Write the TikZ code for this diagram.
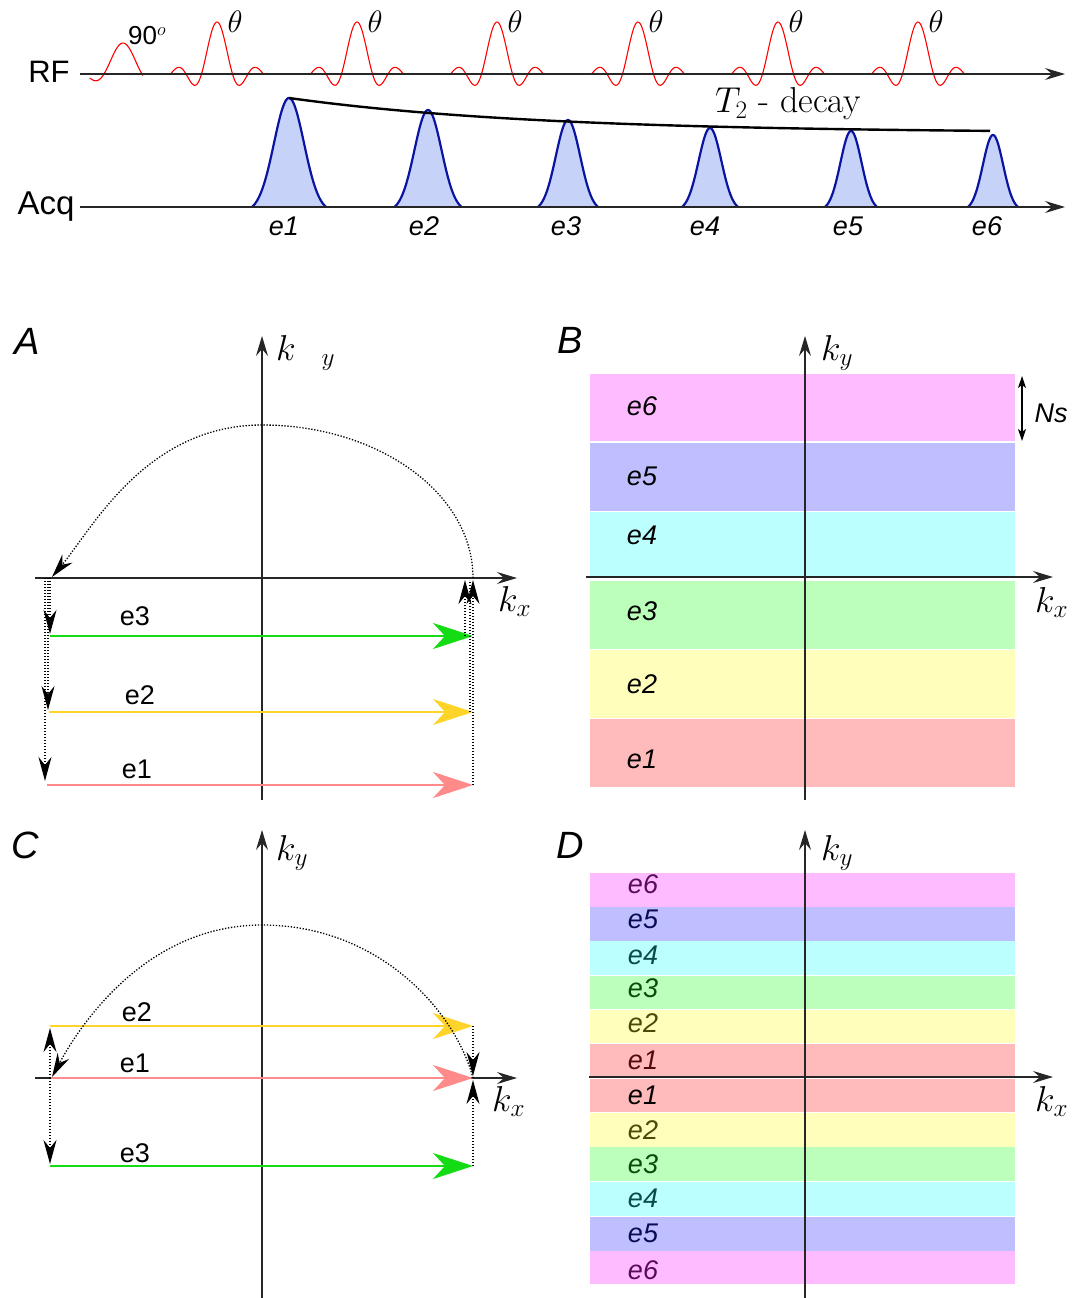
\RequirePackage{fix-cm}
\documentclass[tikz,border=0pt]{standalone}
\usepackage{fontspec}
\newfontfamily\arial{Liberation Sans}
\usetikzlibrary{arrows.meta}
\newcommand\fsz[1]{\fontsize{#1}{#1}\selectfont}
\definecolor{cpink}{HTML}{FFBBFF}
\definecolor{clav}{HTML}{BFBFFF}
\definecolor{ccyan}{HTML}{BBFFFF}
\definecolor{cgreen}{HTML}{BBFFBB}
\definecolor{cyellow}{HTML}{FFFFBB}
\definecolor{csalmon}{HTML}{FFBBBB}
\definecolor{agreen}{HTML}{14DC14}
\definecolor{ayellow}{HTML}{FFD42A}
\definecolor{asalmon}{HTML}{FF8A8A}
\definecolor{echoblue}{HTML}{C6D2F8}
\definecolor{echonavy}{HTML}{0A14A0}
\definecolor{dpurple}{HTML}{5A0A5A}
\definecolor{dnavy}{HTML}{0A0A55}
\definecolor{dteal}{HTML}{0A4A4A}
\definecolor{dgreen}{HTML}{0A4A0A}
\definecolor{dolive}{HTML}{4A4A0A}
\definecolor{dred}{HTML}{550A0A}
\begin{document}
\begin{tikzpicture}[x=1pt,y=-1pt,
  axis/.style={line width=1.2pt, draw=black!85, -{Stealth[length=20pt,width=12pt,inset=7pt]}},
  dotarr/.style={line width=1.3pt, dash pattern=on 1.3pt off 1.7pt, -{Stealth[length=24pt,width=13pt,inset=8pt]}},
  dotln/.style={line width=1.2pt, dash pattern=on 1.3pt off 1.7pt},
  karrow/.style={line width=2.6pt, -{Stealth[length=40pt,width=26pt,inset=12pt]}},
  rfpulse/.style={red, line width=1.1pt},
  echoline/.style={draw=echonavy, line width=2.2pt},
  big/.style={inner sep=0pt, font=\arial\fsz{31}},
  elab/.style={inner sep=0pt, font=\arial\itshape\fsz{27}},
  klab/.style={inner sep=0pt, font=\arial\fsz{27}},
  mlab/.style={inner sep=0pt, font=\fsz{36}},
  thlab/.style={inner sep=0pt, font=\fsz{31}},
  panel/.style={inner sep=0pt, font=\arial\itshape\fsz{38}},
  slab/.style={inner sep=0pt, font=\arial\itshape\fsz{27}},
]
\useasboundingbox (0,0) rectangle (1074,1298);

% ================= pulse sequence =================
\foreach \ec/\eh/\eb in {289/109/37, 428/97/33.5, 568/87/30, 710/79/28, 851/76/26, 993/72/25} {
  \pgfmathsetmacro\es{\eb*0.405}
  \pgfmathsetmacro\eE{exp(-0.5/(0.405*0.405))}
  \fill[echoblue] plot[domain=-\eb:\eb,samples=71] ({\ec+\x},{207-\eh*(exp(-0.5*(\x/\es)*(\x/\es))-\eE)/(1-\eE)}) -- cycle;
  \draw[echoline] plot[domain=-\eb:\eb,samples=71] ({\ec+\x},{207-\eh*(exp(-0.5*(\x/\es)*(\x/\es))-\eE)/(1-\eE)});
}
\foreach \lx [count=\i] in {284,424,566,705,848,987} {
  \node[elab] (ae\i) at (\lx,226) {e\i};
}
\draw[rfpulse] plot[domain=-1.75:1.05,samples=60] ({123+19*\x},{74-31*sin(180*\x)/(pi*(\x))});
\foreach \pc [count=\i] in {217,357,497,638,778,918} {
  \draw[rfpulse] plot[domain=-3:3,samples=120] ({\pc+15.5*\x},{74-52*sin(180*\x)/(pi*(\x))});
  \node[thlab] (th\i) at (\pc+18,22) {$\theta$};
}
\coordinate (rf0) at (80,74); \coordinate (rf1) at (1065,74);
\coordinate (aq0) at (80,207); \coordinate (aq1) at (1065,207);
\draw[axis] (rf0) -- (rf1);
\draw[axis] (aq0) -- (aq1);
\node[big] (rf) at (49,72) {RF};
\node[big, font=\arial\fsz{33}] (acq) at (46,207) {Acq};
\node[anchor=base west, inner sep=0pt, font=\arial\fsz{26}] (n90) at (128,45) {90$^o$};
\draw[line width=2.4pt] plot[domain=289:990,samples=60] (\x,{133-35*exp(-(\x-289)/250)});
\node[inner sep=0pt, font=\fsz{36}] (t2) at (788,104) {$T_2$ - decay};

% ================= panel A =================
\node[panel] (pA) at (27,341) {A};
\coordinate (Ay0) at (262,800); \coordinate (Ay1) at (262,336);
\coordinate (Ax0) at (35,578); \coordinate (Ax1) at (517,578);
\draw[axis] (Ay0) -- (Ay1);
\draw[axis] (Ax0) -- (Ax1);
\node[mlab, anchor=base west] (Aky) at (276,360) {$k\;\;\,{}_y$};
\node[mlab, anchor=base west] (Akx) at (498,611) {$k_x$};
\coordinate (A3a) at (50,636); \coordinate (A3b) at (473,636);
\coordinate (A2a) at (49,712); \coordinate (A2b) at (473,712);
\coordinate (A1a) at (47,785); \coordinate (A1b) at (473,785);
\draw[karrow, agreen] (A3a) -- (A3b);
\draw[karrow, ayellow] (A2a) -- (A2b);
\draw[karrow, asalmon] (A1a) -- (A1b);
\node[klab] (Ae3) at (135,616) {e3};
\node[klab] (Ae2) at (140,695) {e2};
\node[klab] (Ae1) at (137,769) {e1};
\coordinate (Aarc0) at (473,578); \coordinate (Atop) at (262,425); \coordinate (Aarc1) at (52,577);
\draw[dotarr] (Aarc0) .. controls (473,493) and (378,425) .. (Atop) .. controls (146,425) and (92,529) .. (Aarc1);
\coordinate (AL3) at (50,578); \coordinate (AL2) at (48,578); \coordinate (AL1) at (45,578);
\coordinate (AL3e) at (50,634); \coordinate (AL2e) at (48,710); \coordinate (AL1e) at (45,781);
\draw[dotarr] (AL3) -- (AL3e);
\draw[dotarr] (AL2) -- (AL2e);
\draw[dotarr] (AL1) -- (AL1e);
\coordinate (AR3) at (465,636); \coordinate (AR2) at (470,712); \coordinate (AR1) at (473,785);
\coordinate (AR3e) at (465,580); \coordinate (AR2e) at (470,580); \coordinate (AR1e) at (473,580);
\draw[dotarr] (AR3) -- (AR3e);
\draw[dotln] (AR2) -- (AR2e);
\draw[dotarr] (AR1) -- (AR1e);

% ================= panel B =================
\node[panel] (pB) at (570,340) {B};
\fill[cpink]   (590,374) rectangle (1015,441);
\fill[clav]    (590,443) rectangle (1015,511);
\fill[ccyan]   (590,512) rectangle (1015,577);
\fill[cgreen]  (590,581) rectangle (1015,649);
\fill[cyellow] (590,650) rectangle (1015,718);
\fill[csalmon] (590,719) rectangle (1015,787);
\node[slab] (Be6) at (642,406) {e6};
\node[slab] (Be5) at (642,476) {e5};
\node[slab] (Be4) at (642,535) {e4};
\node[slab] (Be3) at (642,611) {e3};
\node[slab] (Be2) at (642,684) {e2};
\node[slab] (Be1) at (642,759) {e1};
\coordinate (By0) at (805,800); \coordinate (By1) at (805,336);
\coordinate (Bx0) at (586,577); \coordinate (Bx1) at (1053,577);
\draw[axis] (By0) -- (By1);
\draw[axis] (Bx0) -- (Bx1);
\node[mlab, anchor=base west] (Bky) at (821,360) {$k_y$};
\node[mlab, anchor=base west] (Bkx) at (1035,612) {$k_x$};
\coordinate (Ns0) at (1022,376); \coordinate (Ns1) at (1022,441);
\draw[line width=1.2pt, {Stealth[length=12pt,width=8pt,inset=3pt]}-{Stealth[length=12pt,width=8pt,inset=3pt]}] (Ns0) -- (Ns1);
\node[slab] (Ns) at (1051,413) {Ns};

% ================= panel C =================
\node[panel] (pC) at (25,845) {C};
\coordinate (Cy0) at (262,1298); \coordinate (Cy1) at (262,830);
\coordinate (Cx0) at (35,1078); \coordinate (Cx1) at (517,1078);
\draw[axis] (Cy0) -- (Cy1);
\draw[axis] (Cx0) -- (Cx1);
\node[mlab, anchor=base west] (Cky) at (276,860) {$k_y$};
\node[mlab, anchor=base west] (Ckx) at (492,1111) {$k_x$};
\coordinate (C2a) at (50,1026); \coordinate (C2b) at (473,1026);
\coordinate (C1a) at (50,1078); \coordinate (C1b) at (473,1078);
\coordinate (C3a) at (50,1166); \coordinate (C3b) at (473,1166);
\draw[karrow, ayellow] (C2a) -- (C2b);
\draw[karrow, asalmon] (C1a) -- (C1b);
\draw[karrow, agreen] (C3a) -- (C3b);
\node[klab] (Ce2) at (137,1012) {e2};
\node[klab] (Ce1) at (135,1063) {e1};
\node[klab] (Ce3) at (135,1153) {e3};
\coordinate (CL0) at (50,1078); \coordinate (CLu) at (50,1028); \coordinate (CLd) at (50,1164);
\draw[dotarr] (CL0) -- (CLu);
\draw[dotarr] (CL0) -- (CLd);
\coordinate (CRu) at (473,1026); \coordinate (CRd) at (473,1166);
\coordinate (CRu1) at (473,1076); \coordinate (CRd1) at (473,1080);
\draw[dotarr] (CRu) -- (CRu1);
\draw[dotarr] (CRd) -- (CRd1);
\coordinate (Carc0) at (473,1078); \coordinate (Ctop) at (262,925); \coordinate (Carc1) at (52,1077);
\draw[dotarr] (Carc0) .. controls (455,1010) and (378,925) .. (Ctop) .. controls (146,925) and (80,1025) .. (Carc1);

% ================= panel D =================
\node[panel] (pD) at (570,845) {D};
\fill[cpink]   (590,873) rectangle (1015,907);
\fill[clav]    (590,907) rectangle (1015,941);
\fill[ccyan]   (590,941) rectangle (1015,975);
\fill[cgreen]  (590,976) rectangle (1015,1009);
\fill[cyellow] (590,1010) rectangle (1015,1043);
\fill[csalmon] (590,1044) rectangle (1015,1077);
\fill[csalmon] (590,1079) rectangle (1015,1112);
\fill[cyellow] (590,1113) rectangle (1015,1147);
\fill[cgreen]  (590,1147) rectangle (1015,1181);
\fill[ccyan]   (590,1182) rectangle (1015,1216);
\fill[clav]    (590,1217) rectangle (1015,1251);
\fill[cpink]   (590,1251) rectangle (1015,1284);
\node[slab, text=dpurple] (De6) at (643,884) {e6};
\node[slab, text=dnavy] (De5) at (643,919) {e5};
\node[slab, text=dteal] (De4) at (643,955) {e4};
\node[slab, text=dgreen] (De3) at (643,988) {e3};
\node[slab, text=dolive] (De2) at (643,1023) {e2};
\node[slab, text=dred] (De1) at (643,1060) {e1};
\node[slab] (Df1) at (643,1095) {e1};
\node[slab, text=dolive] (Df2) at (643,1130) {e2};
\node[slab, text=dgreen] (Df3) at (643,1164) {e3};
\node[slab, text=dteal] (Df4) at (643,1198) {e4};
\node[slab, text=dnavy] (Df5) at (643,1233) {e5};
\node[slab, text=dpurple] (Df6) at (643,1270) {e6};
\coordinate (Dy0) at (805,1298); \coordinate (Dy1) at (805,830);
\coordinate (Dx0) at (589,1077); \coordinate (Dx1) at (1053,1077);
\draw[axis] (Dy0) -- (Dy1);
\draw[axis] (Dx0) -- (Dx1);
\node[mlab, anchor=base west] (Dky) at (821,860) {$k_y$};
\node[mlab, anchor=base west] (Dkx) at (1035,1111) {$k_x$};
\end{tikzpicture}
\end{document}
